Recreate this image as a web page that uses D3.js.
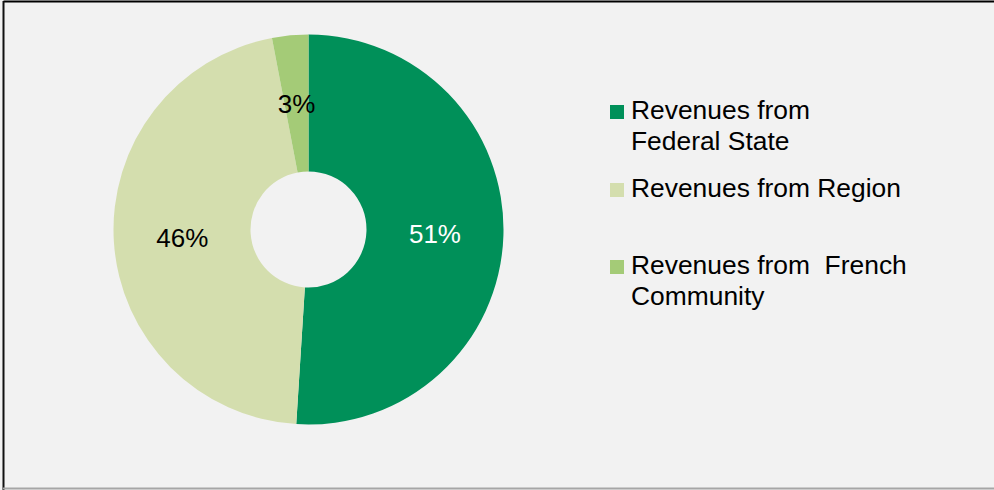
<!DOCTYPE html>
<html>
<head>
<meta charset="utf-8">
<script src="https://cdn.jsdelivr.net/npm/d3@7"></script>
<style>
  html, body { margin: 0; padding: 0; background: #ffffff; }
  svg { display: block; }
  text { font-family: "Liberation Sans", Arial, sans-serif; }
</style>
</head>
<body>
<svg id="chart" width="994" height="490"></svg>
<script>
// Revenue sources (share of total, %)
const categories = ["Revenues from Federal State", "Revenues from Region", "Revenues from  French Community"];
const values = [51, 46, 3];
const colors = ["#009059", "#d4deae", "#a4cb77"];
const labelColors = ["#ffffff", "#000000", "#000000"];
// Legend text, split into lines as displayed
const legendLines = [["Revenues from", "Federal State"], ["Revenues from Region"], ["Revenues from  French", "Community"]];

const svg = d3.select("#chart");
const W = 994, H = 490;

// Panel background and frame
svg.append("rect").attr("x", 0).attr("y", 0).attr("width", W).attr("height", H).attr("fill", "#f2f2f2");
svg.append("line").attr("x1", 3.5).attr("x2", W).attr("y1", 1.5).attr("y2", 1.5).attr("stroke", "#000").attr("stroke-width", 2);
svg.append("line").attr("x1", 3.5).attr("x2", 3.5).attr("y1", 1).attr("y2", H).attr("stroke", "#111").attr("stroke-width", 2);
svg.append("line").attr("x1", 3).attr("x2", W).attr("y1", 488.5).attr("y2", 488.5).attr("stroke", "#a6a6a6").attr("stroke-width", 2);

// Donut
const cx = 308.5, cy = 229.5, outerR = 195, innerR = 58;
const pie = d3.pie().sort(null).value(d => d.value);
const arc = d3.arc().innerRadius(innerR).outerRadius(outerR);
const data = categories.map((c, i) => ({ name: c, value: values[i], color: colors[i], labelColor: labelColors[i] }));
const arcs = pie(data);

const g = svg.append("g").attr("transform", `translate(${cx},${cy})`);
g.selectAll("path.slice")
  .data(arcs)
  .join("path")
  .attr("class", "slice")
  .attr("d", arc)
  .attr("fill", d => d.data.color);

g.selectAll("text.pct")
  .data(arcs)
  .join("text")
  .attr("class", "pct")
  .attr("transform", d => `translate(${arc.centroid(d)})`)
  .attr("text-anchor", "middle")
  .attr("dy", "0.36em")
  .attr("font-size", 26)
  .attr("fill", d => d.data.labelColor)
  .text(d => d3.format(".0f")(d.data.value) + "%");

// Legend
const legendX = 610, legendTops = [105, 183, 260];
const legend = svg.append("g");
data.forEach((d, i) => {
  const item = legend.append("g").attr("transform", `translate(${legendX},${legendTops[i]})`);
  item.append("rect").attr("x", 0).attr("y", 0).attr("width", 14).attr("height", 14).attr("fill", d.color);
  const t = item.append("text")
    .attr("x", 21)
    .attr("y", 14)
    .attr("font-size", 26.4)
    .attr("fill", "#000")
    .style("white-space", "pre");
  legendLines[i].forEach((line, j) => {
    t.append("tspan").attr("x", 21).attr("y", 14 + j * 31).text(line);
  });
});
</script>
</body>
</html>
